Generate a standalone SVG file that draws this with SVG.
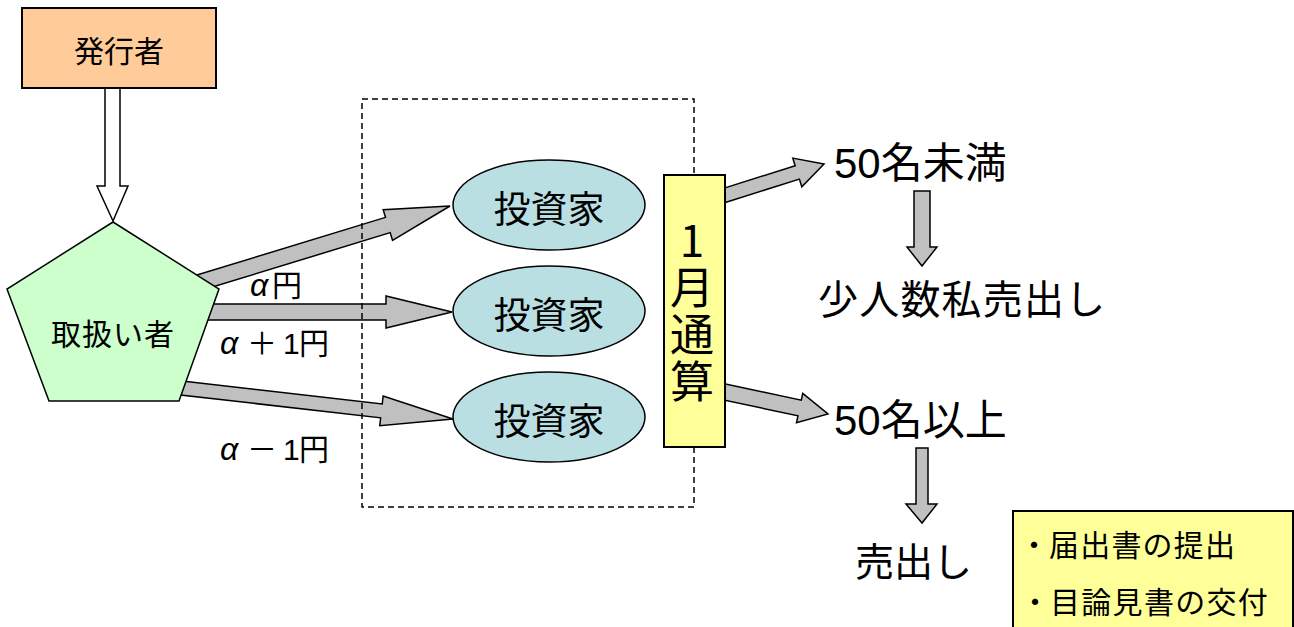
<svg xmlns="http://www.w3.org/2000/svg" width="1294" height="627" viewBox="0 0 1294 627">
<style>
text{font-family:"Liberation Sans","Noto Sans CJK JP",sans-serif;fill:#000}
.jp{font-family:"Noto Sans CJK JP","Liberation Sans",sans-serif}
.blk{fill:#C0C0C0;stroke:#000;stroke-width:1.5;stroke-linejoin:miter}
.hollow{fill:#fff;stroke:#000;stroke-width:1.5}
.inv{fill:#B9DFE3;stroke:#000;stroke-width:1.5}
.c{text-anchor:middle}
.al{font-style:italic;font-size:32px}
</style>
<g id="connectors">
  <polygon class="hollow" points="105,88 105,186 97,186 113,221 128,186 120,186 120,88"/>
  <polygon class="blk" transform="translate(450,206) rotate(-17)" points="-270,-8 -65,-8 -65,-16 0,0 -65,16 -65,8 -270,8"/>
  <polygon class="blk" transform="translate(452,312)" points="-262,-8 -66,-8 -66,-16 0,0 -66,16 -66,8 -262,8"/>
  <polygon class="blk" transform="translate(453,419) rotate(6.5)" points="-280,-7 -72,-7 -72,-15 0,0 -72,15 -72,7 -280,7"/>
  <polygon class="blk" transform="translate(824,164) rotate(-17.5)" points="-114,-7 -28,-7 -28,-15 0,0 -28,15 -28,7 -114,7"/>
  <polygon class="blk" transform="translate(828,414) rotate(12)" points="-116,-8 -29,-8 -29,-15 0,0 -29,15 -29,8 -116,8"/>
  <polygon class="blk" points="914,191 930,191 930,247 937,247 922,266 907,247 914,247"/>
  <polygon class="blk" points="916,448 928,448 928,504 937,504 922,523 906,504 916,504"/>
</g>
<g id="issuer">
  <rect x="22" y="8" width="194" height="80" fill="#FFCC99" stroke="#000" stroke-width="2"/>
  <text class="jp c" x="119" y="62" font-size="30">発行者</text>
</g>
<g id="handler">
  <polygon points="113,222 219,289 179,401 49,401 7,289" fill="#CCFFCC" stroke="#000" stroke-width="1.5"/>
  <text class="jp c" x="113" y="345" font-size="30" letter-spacing="1">取扱い者</text>
</g>
<g id="group-box">
  <rect x="362" y="99" width="332" height="408" fill="none" stroke="#000" stroke-width="1.5" stroke-dasharray="6 4"/>
</g>
<g id="investor1">
  <ellipse class="inv" cx="549" cy="205" rx="96" ry="45"/>
  <text class="jp c" x="549" y="223" font-size="37">投資家</text>
</g>
<g id="investor2">
  <ellipse class="inv" cx="549" cy="311" rx="96" ry="45"/>
  <text class="jp c" x="549" y="329" font-size="37">投資家</text>
</g>
<g id="investor3">
  <ellipse class="inv" cx="549" cy="417" rx="96" ry="45"/>
  <text class="jp c" x="549" y="435" font-size="37">投資家</text>
</g>
<g id="monthly">
  <rect x="664" y="175" width="61" height="272" fill="#FFFF99" stroke="#000" stroke-width="2"/>
  <text class="jp" x="692" y="218" font-size="44" letter-spacing="3" writing-mode="vertical-rl" style="text-orientation:upright">1月通算</text>
</g>
<g id="labels">
  <text y="296" font-size="30"><tspan class="al" x="250">α</tspan><tspan class="jp" x="272">円</tspan></text>
  <text y="354" font-size="30"><tspan class="al" x="220">α</tspan><tspan class="jp" x="247">＋</tspan><tspan x="283">1</tspan><tspan class="jp" x="299">円</tspan></text>
  <text y="460" font-size="30"><tspan class="al" x="220">α</tspan><tspan class="jp" x="247">－</tspan><tspan x="283">1</tspan><tspan class="jp" x="299">円</tspan></text>
</g>
<g id="under50">
  <text x="834" y="178" font-size="42">50<tspan class="jp">名未満</tspan></text>
</g>
<g id="small-private">
  <text class="jp" x="818" y="314" font-size="40" letter-spacing="1.2">少人数私売出し</text>
</g>
<g id="over50">
  <text x="834" y="435" font-size="42">50<tspan class="jp">名以上</tspan></text>
</g>
<g id="offering">
  <text class="jp" x="855" y="576" font-size="39">売出し</text>
</g>
<g id="requirements">
  <rect x="1013" y="511" width="280" height="130" fill="#FFFF99" stroke="#000" stroke-width="2"/>
  <text class="jp" y="556" font-size="30"><tspan x="1019">・</tspan><tspan x="1049" letter-spacing="1.2">届出書の提出</tspan></text>
  <text class="jp" y="613" font-size="30"><tspan x="1020">・</tspan><tspan x="1050" letter-spacing="1.3">目論見書の交付</tspan></text>
</g>
</svg>
